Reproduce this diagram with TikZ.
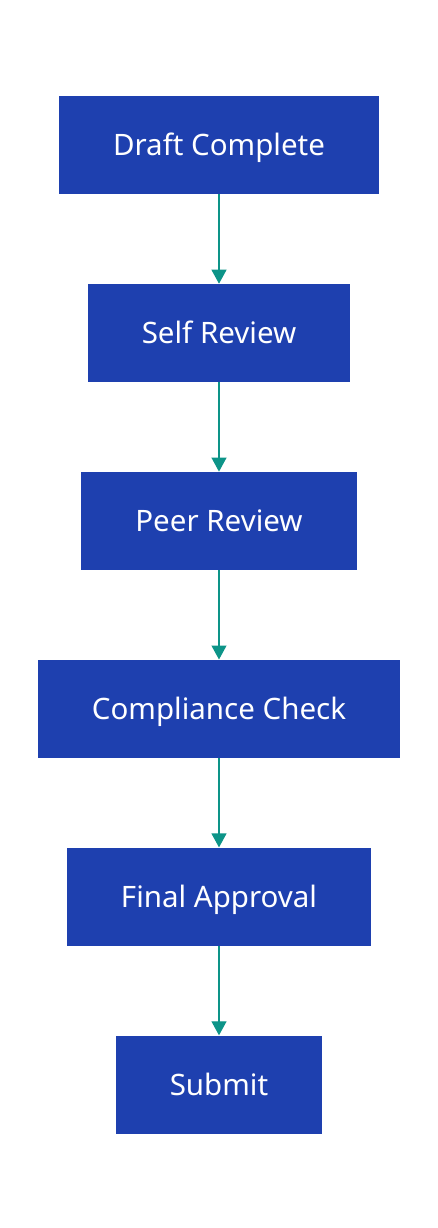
\documentclass[tikz,border=0pt]{standalone}
\usepackage{fontspec}
\setmainfont{Noto Sans}
\usetikzlibrary{arrows.meta, positioning}
\definecolor{boxblue}{HTML}{1E40AF}
\definecolor{arrowteal}{HTML}{0D9488}
\begin{document}
\begin{tikzpicture}[x=1pt, y=1pt,
    stage/.style={fill=boxblue, text=white, font=\fontsize{29.5}{34}\selectfont,
        minimum height=98pt, inner xsep=54pt, text height=22pt, text depth=1pt},
    flow/.style={-{Triangle[length=14pt, width=15pt]}, arrowteal, line width=1.2pt}]
    \useasboundingbox (0,0) rectangle (438,-1228);

    \node[stage] (draft) at (219,-145) {Draft Complete};
    \node[stage, below=89.5pt of draft] (self) {Self Review};
    \node[stage, below=89.5pt of self] (peer) {Peer Review};
    \node[stage, below=89.5pt of peer] (compliance) {Compliance Check};
    \node[stage, below=89.5pt of compliance] (final) {Final Approval};
    \node[stage, below=89.5pt of final] (submit) {Submit};

    \draw[flow] (draft) -- (self);
    \draw[flow] (self) -- (peer);
    \draw[flow] (peer) -- (compliance);
    \draw[flow] (compliance) -- (final);
    \draw[flow] (final) -- (submit);
\end{tikzpicture}
\end{document}
